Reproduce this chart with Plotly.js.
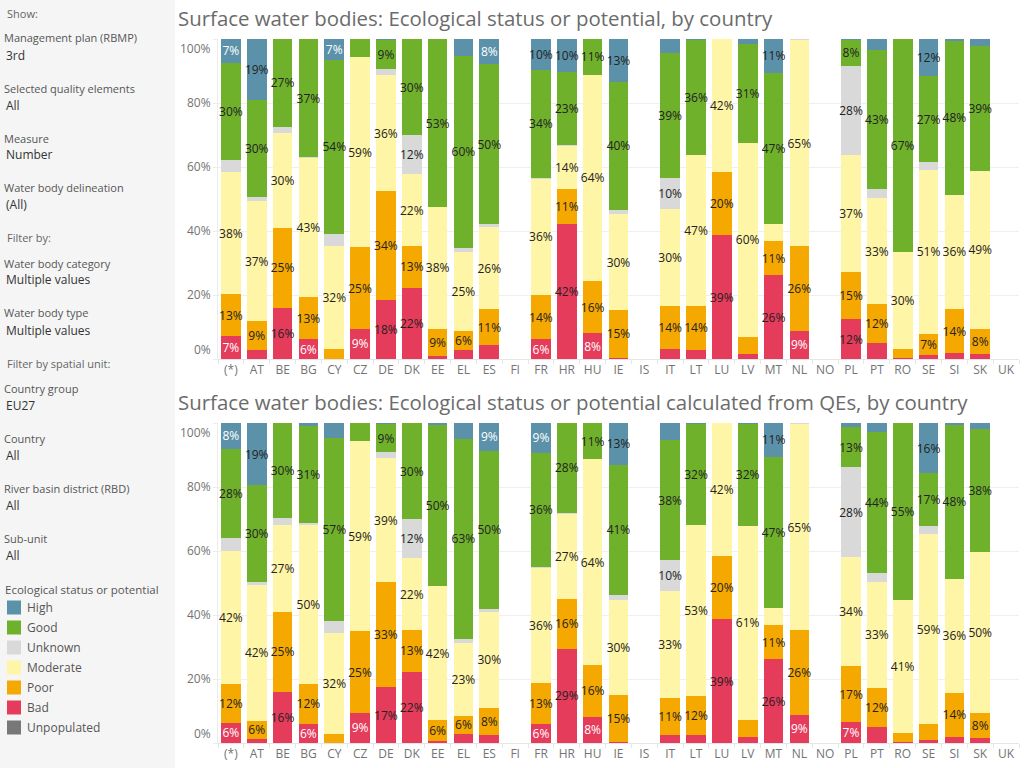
<!DOCTYPE html>
<html>
<head>
<meta charset="utf-8">
<script src="https://cdn.plot.ly/plotly-3.0.1.min.js"></script>
<style>
  html, body { margin: 0; padding: 0; background: #fff; }
  #chart { width: 1024px; height: 768px; }
</style>
</head>
<body>
<div id="chart"></div>
<script>
// Countries (columns), in display order; FI, IS, NO and UK have no data
const countries = ['(*)','AT','BE','BG','CY','CZ','DE','DK','EE','EL','ES','FI','FR','HR','HU','IE','IS',
                   'IT','LT','LU','LV','MT','NL','NO','PL','PT','RO','SE','SI','SK','UK'];

// Status classes, stacked from the bottom up
const statuses = ['Bad','Poor','Moderate','Unknown','Good','High'];
const legendOrder = ['High','Good','Unknown','Moderate','Poor','Bad','Unpopulated'];
const statusColors = {
  High: '#5b92a9', Good: '#70b12c', Unknown: '#d9d9d9', Moderate: '#fff5a6',
  Poor: '#f5a800', Bad: '#e53c5c', Unpopulated: '#787878'
};

// Ecological status or potential, share of water bodies (%)
const esBad      = [7.2, 2.8, 16.0, 6.2, 0, 9.4, 18.4, 22.3, 0.9, 2.8, 4.4, null, 6.2, 42.2, 8.1, 0.4, null, 3.1, 2.8, 38.7, 1.5, 26.2, 8.8, null, 12.4, 5.0, 0.3, 1.2, 1.9, 1.6, null];
const esPoor     = [13.1, 9.1, 25.0, 13.2, 3.1, 25.45, 34.1, 13.0, 8.6, 6.0, 11.2, null, 13.8, 10.9, 16.3, 14.9, null, 13.6, 13.8, 19.6, 5.5, 10.6, 26.4, null, 14.8, 12.2, 2.8, 6.6, 13.7, 7.8, null];
const esModerate = [38.1, 37.4, 29.7, 43.4, 32.3, 59.45, 36.2, 22.4, 37.9, 24.7, 25.6, null, 36.4, 13.6, 64.4, 30.0, null, 30.3, 47.2, 41.7, 60.4, 5.4, 64.6, null, 36.6, 33.1, 30.3, 51.3, 35.7, 49.4, null];
const esUnknown  = [3.8, 1.2, 1.9, 0.3, 3.8, 0, 1.9, 12.2, 0, 1.3, 0.9, null, 0.3, 0.3, 0, 1.3, null, 9.7, 0, 0, 0, 0, 0.2, null, 27.8, 2.8, 0, 2.5, 0, 0, null];
const esGood     = [30.4, 30.4, 27.4, 36.9, 54.2, 5.55, 9.1, 30.1, 52.6, 59.9, 50.1, null, 33.7, 22.8, 11.2, 40.1, null, 38.8, 35.9, 0, 31.0, 47.2, 0, null, 8.1, 43.4, 66.6, 26.8, 48.1, 39.0, null];
const esHigh     = [7.4, 19.1, 0, 0, 6.6, 0, 0.3, 0, 0, 5.3, 7.8, null, 9.6, 10.2, 0, 13.3, null, 4.5, 0.3, 0, 1.6, 10.6, 0, null, 0.3, 3.5, 0, 11.6, 0.6, 2.2, null];

// Ecological status or potential calculated from quality elements (%)
const qeBad      = [6.3, 1.4, 16.0, 6.0, 0, 9.4, 17.4, 22.3, 0.7, 2.9, 2.6, null, 6.0, 29.4, 8.2, 0.4, null, 2.6, 2.6, 38.7, 1.8, 26.2, 8.8, null, 6.6, 5.1, 0.3, 1.0, 2.0, 1.7, null];
const qePoor     = [12.2, 5.6, 25.0, 12.4, 2.9, 25.45, 32.9, 13.0, 6.4, 5.6, 8.4, null, 12.6, 15.6, 16.2, 14.7, null, 11.4, 12.2, 19.6, 5.5, 10.6, 26.4, null, 17.4, 12.2, 2.9, 5.0, 13.7, 7.8, null];
const qeModerate = [41.6, 42.4, 27.2, 49.6, 31.6, 59.45, 38.7, 22.4, 42.0, 22.8, 29.9, null, 36.2, 26.6, 64.3, 29.6, null, 33.4, 53.3, 41.7, 60.6, 5.4, 64.6, null, 34.0, 33.0, 41.4, 59.2, 35.6, 50.2, null];
const qeUnknown  = [4.0, 0.9, 2.2, 0.6, 3.7, 0, 1.9, 12.2, 0, 1.2, 0.9, null, 0.3, 0.3, 0, 1.6, null, 9.7, 0, 0, 0, 0, 0.2, null, 28.1, 2.8, 0, 2.5, 0, 0, null];
const qeGood     = [27.9, 30.3, 29.6, 30.6, 57.2, 5.55, 8.8, 30.1, 50.3, 62.6, 49.6, null, 35.6, 28.1, 11.3, 40.6, null, 37.6, 31.6, 0, 31.8, 47.2, 0, null, 12.8, 44.0, 55.4, 16.6, 48.1, 38.4, null];
const qeHigh     = [8.0, 19.4, 0, 0.8, 4.6, 0, 0.3, 0, 0.6, 4.9, 8.6, null, 9.3, 0, 0, 13.1, null, 5.3, 0.3, 0, 0.3, 10.6, 0, null, 1.1, 2.9, 0, 15.7, 0.6, 1.9, null];

// Percentage axis
const yTicks = [0, 20, 40, 60, 80, 100];

const chartTitles = [
  'Surface water bodies: Ecological status or potential, by country',
  'Surface water bodies: Ecological status or potential calculated from QEs, by country'
];

// Filter panel contents
const panelSections = [
  { header: 'Show:', rows: [
      ['Management plan (RBMP)', '3rd'],
      ['Selected quality elements', 'All'],
      ['Measure', 'Number'],
      ['Water body delineation', '(All)'] ] },
  { header: 'Filter by:', rows: [
      ['Water body category', 'Multiple values'],
      ['Water body type', 'Multiple values'] ] },
  { header: 'Filter by spatial unit:', rows: [
      ['Country group', 'EU27'],
      ['Country', 'All'],
      ['River basin district (RBD)', 'All'],
      ['Sub-unit', 'All'] ] }
];
const legendTitle = 'Ecological status or potential';

// ---------------------------------------------------------------------------
const W = 1024, H = 768;
const px = x => x / W;
const py = y => 1 - y / H;
const FONT = 'Open Sans, Noto Sans, sans-serif';
const AXIS_TEXT = '#737373';
const LABEL_MIN = 5.6;   // segments thinner than this carry no label

const yMin = yTicks[0], yMax = yTicks[yTicks.length - 1];
const pct = v => v + '%';
// the end ticks are drawn inside the pane (see edge labels below)
const yTickText = yTicks.map(v => (v === yMin || v === yMax) ? '' : pct(v));

const datasets = [
  { Bad: esBad, Poor: esPoor, Moderate: esModerate, Unknown: esUnknown, Good: esGood, High: esHigh },
  { Bad: qeBad, Poor: qePoor, Moderate: qeModerate, Unknown: qeUnknown, Good: qeGood, High: qeHigh }
];

const traces = [];
datasets.forEach((ds, i) => {
  const ax = i === 0 ? '' : '2';
  statuses.forEach(st => {
    const vals = ds[st];
    const light = (st === 'Bad' || st === 'High');
    traces.push({
      type: 'bar',
      name: st,
      x: countries,
      y: vals,
      xaxis: 'x' + ax,
      yaxis: 'y' + ax,
      marker: { color: statusColors[st], line: { width: 0 } },
      text: vals.map(v => (v != null && v >= LABEL_MIN) ? Math.round(v) + '%' : ''),
      textposition: 'inside',
      insidetextanchor: 'middle',
      textangle: 0,
      constraintext: 'none',
      textfont: {
        family: FONT, size: 12,
        color: vals.map(v => (light && v != null && Math.round(v) < 10) ? '#ffffff' : '#222222')
      },
      hoverinfo: 'x+y+name',
      showlegend: false
    });
  });
});

const xDomain = [px(218), px(1019)];
const plots = [ { top: 39, bottom: 359 }, { top: 423, bottom: 743 } ];

function xAxis(anchor) {
  return {
    domain: xDomain, anchor: anchor,
    type: 'category', categoryorder: 'array', categoryarray: countries,
    range: [-0.5, countries.length - 0.5],
    showgrid: false, zeroline: false,
    showline: true, linecolor: '#e6e6e6', linewidth: 1,
    ticks: 'outside', tickson: 'boundaries', ticklen: 4, tickcolor: '#e6e6e6',
    tickangle: 0,
    tickfont: { family: FONT, size: 12, color: AXIS_TEXT },
    fixedrange: true
  };
}
function yAxis(anchor, p) {
  return {
    domain: [py(p.bottom), py(p.top)], anchor: anchor,
    range: [yMin, yMax], tickmode: 'array', tickvals: yTicks, ticktext: yTickText,
    showgrid: true, gridcolor: '#efefef', zeroline: false,
    showline: true, linecolor: '#ececec',
    ticks: 'outside', ticklen: 4, tickcolor: '#ececec',
    tickfont: { family: FONT, size: 12, color: AXIS_TEXT },
    fixedrange: true
  };
}

const shapes = [
  { type: 'rect', xref: 'paper', yref: 'paper', x0: 0, x1: px(175), y0: 0, y1: 1,
    fillcolor: '#f5f5f5', line: { width: 0 }, layer: 'below' }
];
const annotations = [];
const note = (text, x, y, size, color) => annotations.push({
  text: text, xref: 'paper', yref: 'paper', x: px(x), y: py(y),
  xanchor: 'left', yanchor: 'middle', showarrow: false,
  font: { family: FONT, size: size, color: color }
});

// end-of-axis percentage labels, kept inside each pane
['y', 'y2'].forEach(yr => {
  [[yMin, 'bottom'], [yMax, 'top']].forEach(([v, anchor]) => annotations.push({
    text: pct(v), xref: 'paper', yref: yr, x: px(212), y: v,
    xanchor: 'right', yanchor: anchor, showarrow: false, borderpad: 0,
    font: { family: FONT, size: 12, color: AXIS_TEXT }
  }));
});

// chart titles
chartTitles.forEach((t, i) => note(t, 176, i === 0 ? 18 : 402, 20.4, '#6b6b6b'));

// filter panel: header, then label/value rows 50px apart
let yCur = 13;
panelSections.forEach(sec => {
  note(sec.header, 5, yCur, 11, '#666666');
  yCur += 25;
  sec.rows.forEach(r => {
    note(r[0], 2, yCur, 11, '#555555');
    note(r[1], 4, yCur + 17, 12, '#333333');
    yCur += 50;
  });
});

// colour legend
note(legendTitle, 3, 589, 11.5, '#555555');
legendOrder.forEach((st, k) => {
  const yc = 607.5 + 20 * k;
  shapes.push({ type: 'rect', xref: 'paper', yref: 'paper',
    x0: px(7), x1: px(21), y0: py(yc + 7), y1: py(yc - 7),
    fillcolor: statusColors[st], line: { width: 0 } });
  note(st, 25, yc, 12, '#555555');
});

const layout = {
  width: W, height: H,
  margin: { l: 0, r: 0, t: 0, b: 0, pad: 0 },
  paper_bgcolor: '#ffffff', plot_bgcolor: '#ffffff',
  barmode: 'stack', bargap: 0.24,
  showlegend: false,
  font: { family: FONT, color: '#444' },
  xaxis: xAxis('y'), yaxis: yAxis('x', plots[0]),
  xaxis2: xAxis('y2'), yaxis2: yAxis('x2', plots[1]),
  shapes: shapes, annotations: annotations
};

Plotly.newPlot('chart', traces, layout, { displayModeBar: false, staticPlot: true });
</script>
</body>
</html>
